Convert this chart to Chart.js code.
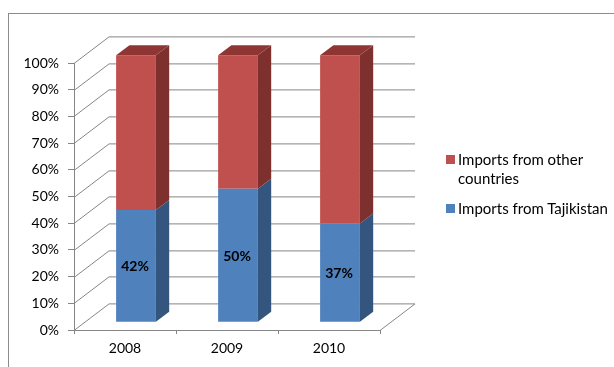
<!DOCTYPE html>
<html>
<head>
<meta charset="utf-8">
<script src="https://cdn.jsdelivr.net/npm/chart.js@4.4.1/dist/chart.umd.min.js"></script>
<style>
  body { margin: 0; background: #fff; }
  #wrap { position: relative; width: 614px; height: 367px; overflow: hidden; }
  #frame { position: absolute; left: 8px; top: 13px; width: 700px; height: 400px; border: 1px solid #8c8c8c; }
  #chart { position: absolute; left: 0; top: 0; }
  #legend { position: absolute; left: 446px; top: 150px; font: 15px Lato, sans-serif; color: #000; }
  .item { position: relative; padding-left: 12px; width: 160px; line-height: 19.3px; margin-bottom: 10.4px; }
  .swatch { position: absolute; left: 0; top: 5px; width: 9px; height: 9px; }
</style>
</head>
<body>
<div id="wrap">
  <div id="frame"></div>
  <canvas id="chart" width="614" height="367"></canvas>
  <div id="legend"></div>
</div>
<script>
const years = ['2008', '2009', '2010'];
const tajikistan = [42, 50, 37];
const otherCountries = [58, 50, 63];
const percentTicks = [0, 10, 20, 30, 40, 50, 60, 70, 80, 90, 100];

const GRID = '#868686';
const FONT = { family: 'Lato, sans-serif', size: 14 };

// 3d look: wall depth, where the bars sit in it, and how deep they are
const DEPTH_X = 35, DEPTH_Y = -26.6;
const BAR_DX = 11, BAR_DY = -7.8;
const SIDE_DX = 13.3, SIDE_DY = -10;

function face(ctx, pts, color) {
    ctx.fillStyle = color;
    ctx.beginPath();
    ctx.moveTo(pts[0][0], pts[0][1]);
    for (let i = 1; i < pts.length; i++) ctx.lineTo(pts[i][0], pts[i][1]);
    ctx.closePath();
    ctx.fill();
}

const box3d = {
    id: 'box3d',
    beforeDatasetsDraw(chart) {
        const { ctx, chartArea: a, scales: { y } } = chart;
        ctx.save();
        ctx.strokeStyle = GRID;
        ctx.lineWidth = 1;
        ctx.beginPath();
        percentTicks.forEach(v => {
            const py = Math.round(y.getPixelForValue(v)) + 0.5;
            ctx.moveTo(a.left, py);
            ctx.lineTo(a.left + DEPTH_X, py + DEPTH_Y);
            ctx.lineTo(a.right + DEPTH_X, py + DEPTH_Y);
        });
        // right edge of the floor
        const fy = Math.round(a.bottom) + 0.5;
        ctx.moveTo(a.right, fy);
        ctx.lineTo(a.right + DEPTH_X, fy + DEPTH_Y);
        ctx.stroke();
        ctx.restore();

        // bars are pushed back into the box
        ctx.save();
        ctx.translate(BAR_DX, BAR_DY);
    },
    afterDatasetsDraw(chart) {
        const ctx = chart.ctx;
        const last = chart.data.datasets.length - 1;
        chart.data.datasets.forEach((ds, i) => {
            chart.getDatasetMeta(i).data.forEach(bar => {
                const { x, y, base, width } = bar.getProps(['x', 'y', 'base', 'width'], true);
                const l = x - width / 2, r = x + width / 2;
                face(ctx, [[r, y], [r + SIDE_DX, y + SIDE_DY], [r + SIDE_DX, base + SIDE_DY], [r, base]], ds.sideColor);
                if (i === last) {
                    face(ctx, [[l, y], [l + SIDE_DX, y + SIDE_DY], [r + SIDE_DX, y + SIDE_DY], [r, y]], ds.topColor);
                }
            });
        });

        // value labels on the Tajikistan part
        ctx.font = 'bold 14px Lato, sans-serif';
        ctx.fillStyle = '#000';
        ctx.textAlign = 'center';
        ctx.textBaseline = 'middle';
        chart.getDatasetMeta(0).data.forEach((bar, j) => {
            const { x, y, base } = bar.getProps(['x', 'y', 'base'], true);
            ctx.fillText(tajikistan[j] + '%', x - 1, (y + base) / 2 + 1);
        });
        ctx.restore();
    }
};

const chart = new Chart(document.getElementById('chart'), {
    type: 'bar',
    data: {
        labels: years,
        datasets: [
            {
                label: 'Imports from Tajikistan',
                data: tajikistan,
                backgroundColor: '#4F81BD',
                sideColor: '#34557D',
                topColor: '#3F6797'
            },
            {
                label: 'Imports from other countries',
                data: otherCountries,
                backgroundColor: '#C0504D',
                sideColor: '#7D302E',
                topColor: '#8F3634'
            }
        ]
    },
    options: {
        responsive: false,
        animation: false,
        devicePixelRatio: 1,
        layout: { padding: { left: 8, top: 63, right: 234, bottom: 0 } },
        datasets: { bar: { barPercentage: 0.39, categoryPercentage: 1, borderWidth: 0, clip: false } },
        plugins: { legend: { display: false }, tooltip: { enabled: false } },
        scales: {
            x: {
                stacked: true,
                grid: { offset: true, drawOnChartArea: false, tickLength: 4, color: GRID },
                border: { color: GRID },
                ticks: { font: FONT, color: '#000', padding: 6 },
                afterFit: s => { s.height = 37; }
            },
            y: {
                stacked: true,
                min: 0,
                max: 100,
                afterBuildTicks: s => { s.ticks = percentTicks.map(v => ({ value: v })); },
                grid: { drawOnChartArea: false, tickLength: 6, color: GRID },
                border: { color: GRID },
                ticks: { font: FONT, color: '#000', padding: 9, callback: v => v + '%' },
                afterFit: s => { s.width = 66; }
            }
        }
    },
    plugins: [box3d]
});

// legend, top series first like the original
const legend = document.getElementById('legend');
chart.data.datasets.slice().reverse().forEach(ds => {
    const item = document.createElement('div');
    item.className = 'item';
    item.innerHTML = `<span class="swatch" style="background:${ds.backgroundColor}"></span>${ds.label}`;
    legend.appendChild(item);
});
</script>
</body>
</html>
